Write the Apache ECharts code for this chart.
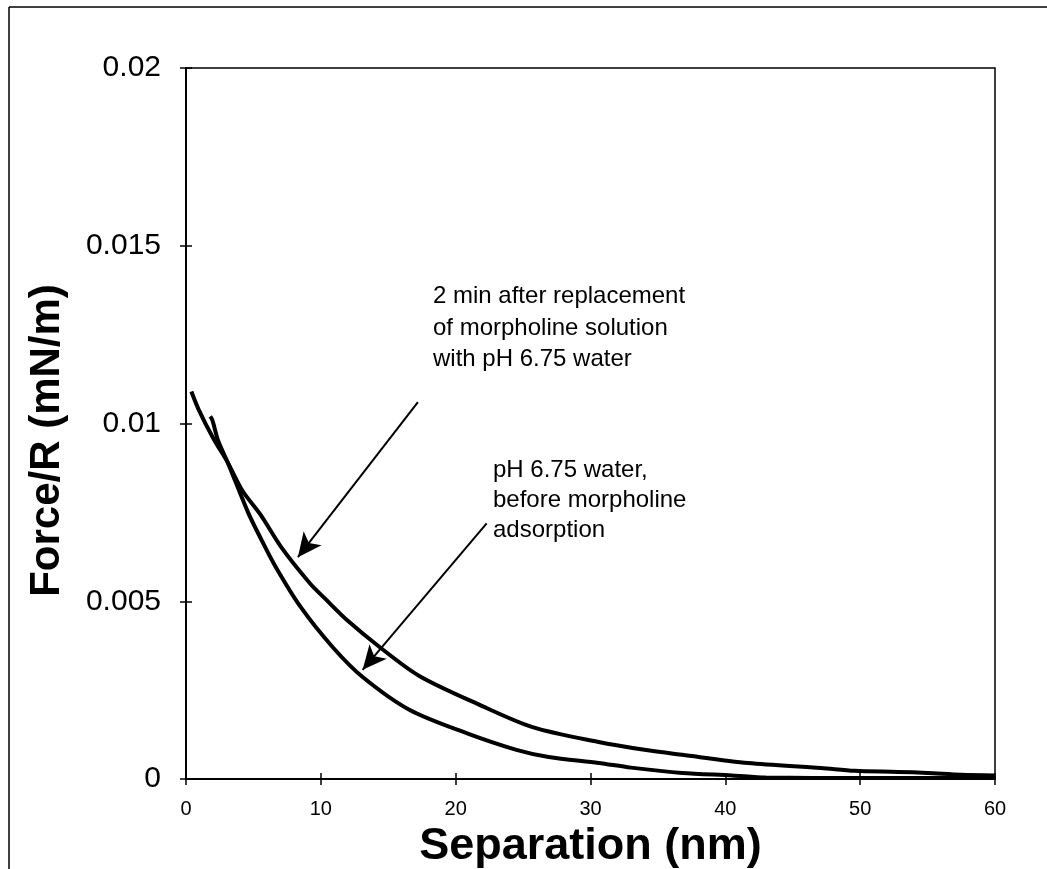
<!DOCTYPE html>
<html>
<head>
<meta charset="utf-8">
<script src="https://cdn.jsdelivr.net/npm/echarts@6/dist/echarts.min.js"></script>
<style>
html,body{margin:0;padding:0;background:#fff;}
#chart{width:1047px;height:869px;}
</style>
</head>
<body>
<div id="chart"></div>
<script>
// Separation (nm) and Force/R (mN/m) values
const sepAfter = [0.4, 0.93, 2, 3.1, 4.2, 5.5, 7.1, 9.2, 10.3, 12.0, 14.4, 17.3, 21.7, 25.7, 30.6, 34, 36.8, 41.7, 47.1, 49.6, 52.8, 55, 57.5, 60];
const forceAfter = [0.0109, 0.0104, 0.0096, 0.0089, 0.0081, 0.00745, 0.0065, 0.0055, 0.00508, 0.00445, 0.0037, 0.0029, 0.0021, 0.00146, 0.00104, 0.00082, 0.00068, 0.00045, 0.00031, 0.00023, 0.0002, 0.00017, 0.00012, 0.0001];
const sepBefore = [1.8, 1.95, 2.4, 3.1, 4.6, 5.5, 6.6, 8.5, 10.9, 13.1, 16.6, 20.8, 24.5, 26.9, 30.6, 33, 36.8, 40.5, 43, 50, 55, 60];
const forceBefore = [0.0102, 0.0101, 0.0095, 0.0089, 0.0075, 0.0068, 0.0060, 0.00484, 0.0037, 0.00287, 0.00194, 0.00129, 0.00082, 0.00062, 0.00045, 0.00032, 0.00017, 0.0001, 0.00004, 0.00003, 0.00003, 0.00004];
const xTicks = [0, 10, 20, 30, 40, 50, 60];
const yTicks = [0, 0.005, 0.01, 0.015, 0.02];
const labelAfter = '2 min after replacement\nof morpholine solution\nwith pH 6.75 water';
const labelBefore = 'pH 6.75 water,\nbefore morpholine\nadsorption';
// arrow annotations (data coordinates): [start, tip]
const arrowAfter = [[17.2, 0.0106], [8.3, 0.00624]];
const arrowBefore = [[22.3, 0.00719], [13.1, 0.00307]];

const FONT = '"Liberation Sans", Arial, Helvetica, sans-serif';
const zip = (a, b) => a.map((v, i) => [v, b[i]]);

const chart = echarts.init(document.getElementById('chart'), null, {renderer: 'canvas'});

function arrowMarkLine(arr) {
  return {
    silent: true,
    animation: false,
    symbol: ['none', 'arrow'],
    symbolSize: [17, 24],
    lineStyle: {color: '#000', width: 2, type: 'solid'},
    label: {show: false},
    emphasis: {disabled: true},
    data: [[{coord: arr[0]}, {coord: arr[1]}]]
  };
}

const yAxisBase = {
  type: 'value',
  min: yTicks[0],
  max: yTicks[yTicks.length - 1],
  interval: yTicks[1] - yTicks[0],
  splitLine: {show: false}
};
const xAxisBase = {
  type: 'value',
  min: xTicks[0],
  max: xTicks[xTicks.length - 1],
  interval: xTicks[1] - xTicks[0],
  splitLine: {show: false}
};

chart.setOption({
  animation: false,
  backgroundColor: '#fff',
  textStyle: {fontFamily: FONT},
  grid: {left: 186, right: 52, top: 68, bottom: 90, containLabel: false, outerBoundsMode: 'none',
         show: true, borderColor: '#000', borderWidth: 1.5, backgroundColor: 'transparent'},
  xAxis: [
    Object.assign({}, xAxisBase, {
      name: 'Separation (nm)',
      nameLocation: 'middle',
      nameGap: 44,
      nameTextStyle: {fontFamily: FONT, fontSize: 45, fontWeight: 'bold', color: '#000'},
      axisLine: {show: true, lineStyle: {color: '#000', width: 2}},
      axisTick: {show: true, inside: false, length: 6, lineStyle: {color: '#000', width: 1.5}},
      axisLabel: {show: true, margin: 20, fontFamily: FONT, fontSize: 20, color: '#000'}
    }),
    Object.assign({}, xAxisBase, {
      position: 'bottom',
      axisLine: {show: false},
      axisTick: {show: true, inside: true, length: 6, lineStyle: {color: '#000', width: 1.5}},
      axisLabel: {show: false}
    })
  ],
  yAxis: [
    Object.assign({}, yAxisBase, {
      name: 'Force/R (mN/m)',
      nameLocation: 'middle',
      nameGap: 118,
      nameRotate: 90,
      nameTextStyle: {fontFamily: FONT, fontSize: 42, fontWeight: 'bold', color: '#000', padding: [0, 34, 0, 0]},
      axisLine: {show: true, lineStyle: {color: '#000', width: 2}},
      axisTick: {show: true, inside: false, length: 6, lineStyle: {color: '#000', width: 1.5}},
      axisLabel: {show: true, margin: 25, fontFamily: FONT, fontSize: 30, color: '#000'}
    }),
    Object.assign({}, yAxisBase, {
      position: 'left',
      axisLine: {show: false},
      axisTick: {show: true, inside: true, length: 6, lineStyle: {color: '#000', width: 1.5}},
      axisLabel: {show: false}
    })
  ],
  series: [
    {
      name: '2 min after replacement of morpholine solution with pH 6.75 water',
      type: 'line',
      data: zip(sepAfter, forceAfter),
      showSymbol: false,
      symbol: 'none',
      smooth: 0.3,
      lineStyle: {color: '#000', width: 4},
      markLine: arrowMarkLine(arrowAfter)
    },
    {
      name: 'pH 6.75 water, before morpholine adsorption',
      type: 'line',
      data: zip(sepBefore, forceBefore),
      showSymbol: false,
      symbol: 'none',
      smooth: 0.3,
      lineStyle: {color: '#000', width: 4},
      markLine: arrowMarkLine(arrowBefore)
    }
  ],
  graphic: [
    {type: 'line', silent: true, shape: {x1: 9, y1: 7, x2: 1047, y2: 7}, style: {stroke: '#000', lineWidth: 1.5}},
    {type: 'line', silent: true, shape: {x1: 9, y1: 7, x2: 9, y2: 869}, style: {stroke: '#000', lineWidth: 1.5}},
    {type: 'text', left: 433, top: 281, silent: true,
     style: {text: labelAfter, fontFamily: FONT, fontSize: 24, lineHeight: 31.5, fill: '#000'}},
    {type: 'text', left: 493, top: 455, silent: true,
     style: {text: labelBefore, fontFamily: FONT, fontSize: 24, lineHeight: 30, fill: '#000'}}
  ]
});
</script>
</body>
</html>
